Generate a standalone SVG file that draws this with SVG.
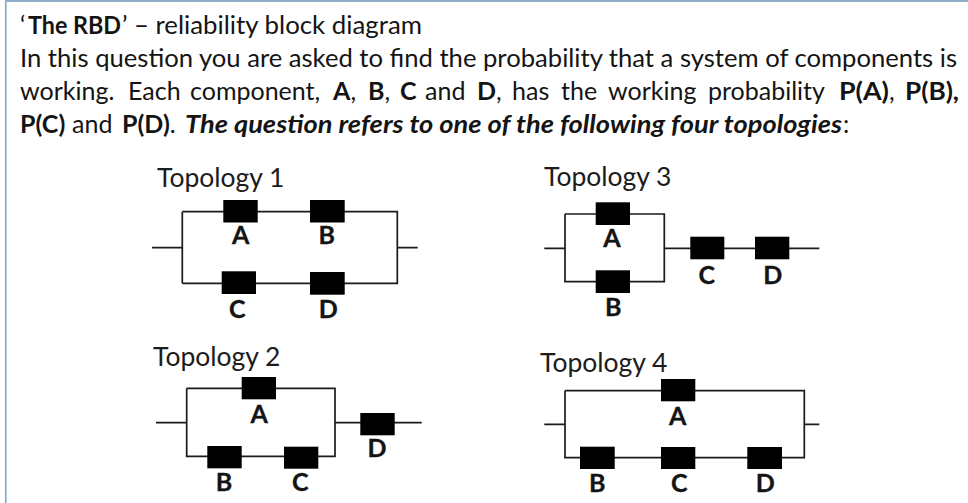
<svg xmlns="http://www.w3.org/2000/svg" width="968" height="503" viewBox="0 0 968 503">
<style>
text{font-family:"Lato","Open Sans","Liberation Sans",sans-serif;fill:#141414}
.b{font-size:25px}
.bold{font-weight:700}
.bi{font-weight:700;font-style:italic}
.title{font-size:26.5px;fill:#1c1c1c}
.lbl{font-size:25px;font-weight:700;text-anchor:middle;stroke:#141414;stroke-width:.35}
.box{fill:#000}
.wire{fill:none;stroke:#1a1a1a;stroke-width:1.7}
.frame{fill:none;stroke:#8fadc8;stroke-width:1.8}
</style>
<rect width="968" height="503" fill="#fff"/>
<path class="frame" d="M5.8 503V1H968"/>
<g id="intro">
<text class="b" x="20" y="33.5">‘</text>
<text class="b bold" x="28" y="33.5" textLength="93" lengthAdjust="spacingAndGlyphs">The RBD</text>
<text class="b" x="122" y="33.5" textLength="300" lengthAdjust="spacingAndGlyphs">’ – reliability block diagram</text>
<text class="b" x="20" y="66.5" textLength="937" lengthAdjust="spacingAndGlyphs">In this question you are asked to find the probability that a system of components is</text>
<text class="b" y="100"><tspan x="20">working.</tspan><tspan x="128">Each</tspan><tspan x="190">component,</tspan><tspan x="333" class="bold">A</tspan><tspan>,</tspan><tspan x="368" class="bold">B</tspan><tspan>,</tspan><tspan x="400" class="bold">C</tspan><tspan x="425">and</tspan><tspan x="477" class="bold">D</tspan><tspan>,</tspan><tspan x="512">has</tspan><tspan x="561">the</tspan><tspan x="608">working</tspan><tspan x="708">probability</tspan></text>
<text class="b bold" x="839" y="100" textLength="50" lengthAdjust="spacingAndGlyphs">P(A)</text>
<text class="b" x="889" y="100">,</text>
<text class="b bold" x="905" y="100" textLength="54" lengthAdjust="spacingAndGlyphs">P(B),</text>
<text class="b" y="132.5"><tspan x="20" class="bold">P(C)</tspan><tspan x="72">and</tspan><tspan x="122" class="bold">P(D)</tspan><tspan>.</tspan></text>
<text class="b bi" x="185" y="132.5" textLength="657" lengthAdjust="spacingAndGlyphs">The question refers to one of the following four topologies</text>
<text class="b" x="843" y="132.5">:</text>
</g>
<g id="titles">
<text class="title" x="157" y="186.5">Topology 1</text>
<text class="title" x="544" y="185.5">Topology 3</text>
<text class="title" x="153" y="365.5">Topology 2</text>
<text class="title" x="540" y="371.5">Topology 4</text>
</g>
<g id="connectors">
<path class="wire" d="M152 247.7H182.3M182.3 211.7V283.3M182.3 211.7H397.3V283.3H182.3M397.3 247.7H417.7"/>
<path class="wire" d="M544.3 248.3H565M565 214V281.7H664.3V214H565M664.3 248.3H819.3"/>
<path class="wire" d="M156 422.7H186.7M186.7 388.3V456.3H335V388.3H186.7M335 422.7H421.7"/>
<path class="wire" d="M544.3 424.3H565M565 390.7V457.7H804.3V390.7H565M804.3 424.3H819.3"/>
</g>
<g id="t1-A"><rect class="box" x="223.3" y="200" width="34.4" height="22.5"/><text class="lbl" x="240.7" y="243.5">A</text></g>
<g id="t1-B"><rect class="box" x="310" y="200" width="34.7" height="22.5"/><text class="lbl" x="326.7" y="243.5">B</text></g>
<g id="t1-C"><rect class="box" x="221.7" y="271.3" width="34.3" height="22.7"/><text class="lbl" x="237.3" y="317.5">C</text></g>
<g id="t1-D"><rect class="box" x="310" y="272" width="34.7" height="22.7"/><text class="lbl" x="328.3" y="317.5">D</text></g>
<g id="t3-A"><rect class="box" x="595.7" y="202.3" width="34.3" height="22.7"/><text class="lbl" x="612" y="247">A</text></g>
<g id="t3-B"><rect class="box" x="595.7" y="270.3" width="34.3" height="22.7"/><text class="lbl" x="613.3" y="316">B</text></g>
<g id="t3-C"><rect class="box" x="690.3" y="236.7" width="34" height="22.6"/><text class="lbl" x="706.7" y="283.7">C</text></g>
<g id="t3-D"><rect class="box" x="755" y="236.7" width="34.3" height="22.6"/><text class="lbl" x="772.7" y="283.7">D</text></g>
<g id="t2-A"><rect class="box" x="241.7" y="377" width="34.3" height="22.3"/><text class="lbl" x="259.3" y="422.7">A</text></g>
<g id="t2-B"><rect class="box" x="207.3" y="446" width="34.4" height="22.3"/><text class="lbl" x="224" y="490.5">B</text></g>
<g id="t2-C"><rect class="box" x="284" y="446.7" width="34.3" height="22"/><text class="lbl" x="300.3" y="490.5">C</text></g>
<g id="t2-D"><rect class="box" x="360.3" y="413" width="34.4" height="22.3"/><text class="lbl" x="377" y="457">D</text></g>
<g id="t4-A"><rect class="box" x="661" y="379" width="34.3" height="22.3"/><text class="lbl" x="677.7" y="424.7">A</text></g>
<g id="t4-B"><rect class="box" x="580" y="446.7" width="34.7" height="22.3"/><text class="lbl" x="597.3" y="492">B</text></g>
<g id="t4-C"><rect class="box" x="661" y="447" width="34.3" height="22"/><text class="lbl" x="679.3" y="492">C</text></g>
<g id="t4-D"><rect class="box" x="747.3" y="447" width="34.7" height="22"/><text class="lbl" x="765.3" y="492">D</text></g>
</svg>
